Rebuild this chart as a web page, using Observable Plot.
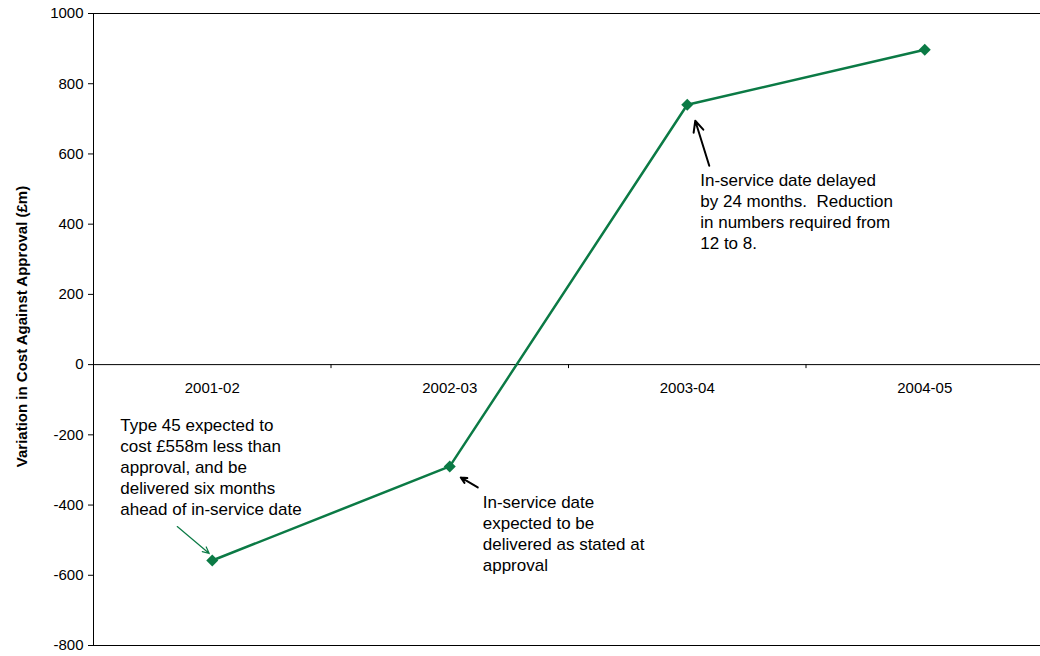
<!DOCTYPE html>
<html><head><meta charset="utf-8">
<script src="https://cdn.jsdelivr.net/npm/d3@7"></script>
<script src="https://cdn.jsdelivr.net/npm/@observablehq/plot@0.6"></script>
<style>html,body{margin:0;padding:0;background:#fff;overflow:hidden} svg{display:block}</style>
</head><body><div id="chart"></div>
<script>
// ---- data ----
const categories = ["2001-02", "2002-03", "2003-04", "2004-05"];
const values = [-558, -290, 740, 897];
const yTicks = [-800, -600, -400, -200, 0, 200, 400, 600, 800, 1000];
const yLabel = "Variation in Cost Against Approval (£m)";
const noteTexts = [
  "Type 45 expected to\ncost £558m less than\napproval, and be\ndelivered six months\nahead of in-service date",
  "In-service date\nexpected to be\ndelivered as stated at\napproval",
  "In-service date delayed\nby 24 months.\u00a0 Reduction\nin numbers required from\n12 to 8."
];

// ---- layout / style ----
const W = 1040, H = 656, mL = 93, mR = -3, mT = 13, mB = 11;
const green = "#0b7a45";
const font = "'Liberation Sans', Arial, Helvetica, sans-serif";
const xk = (W - mL - mR) / categories.length;       // px per category step
const yk = (H - mT - mB) / (yTicks[yTicks.length - 1] - yTicks[0]); // px per £m
// note placement relative to its data point, in pixels
const noteLayout = [
  {dx: -92, dy: -94, tail: [-35, -34], tip: [-3, -7], stroke: green, sw: 1.2, head: 9},
  {dx: 33, dy: 66.5, tail: [28, 21], tip: [11, 11], stroke: "#000", sw: 2, head: 8},
  {dx: 13, dy: 105.5, tail: [22, 61], tip: [8, 16], stroke: "#000", sw: 2, head: 9}
];

const xi = (d, i) => i + 1;
const marks = [
  Plot.ruleY([yTicks[0], 0, yTicks[yTicks.length - 1]], {stroke: "#000", strokeWidth: 1}),
  Plot.ruleX([0.5], {stroke: "#000", strokeWidth: 1}),
  Plot.ruleX(d3.range(1.5, categories.length, 1), {y1: 0, y2: -4 / yk, stroke: "#000", strokeWidth: 1}),
  Plot.text(categories, {x: xi, y: 0, dy: 24, fontSize: 15, text: d => d}),
  Plot.text([yLabel], {frameAnchor: "left", textAnchor: "middle", dx: -71, dy: -3, rotate: -90, fontWeight: "bold", fontSize: 15, text: d => d}),
  Plot.line(values, {x: xi, y: d => d, stroke: green, strokeWidth: 2.5}),
  Plot.dot(values, {x: xi, y: d => d, symbol: "diamond2", r: 5.4, fill: green, stroke: "none"})
];
noteTexts.forEach((t, k) => {
  const L = noteLayout[k];
  const i = k, v = values[k];
  marks.push(Plot.text([t], {x: i + 1, y: v, dx: L.dx, dy: L.dy, textAnchor: "start", lineAnchor: "middle", lineHeight: 21 / 17, fontSize: 17, fill: "#000", text: d => d}));
  marks.push(Plot.arrow([t], {
    x1: i + 1 + L.tail[0] / xk, y1: v - L.tail[1] / yk,
    x2: i + 1 + L.tip[0] / xk, y2: v - L.tip[1] / yk,
    stroke: L.stroke, strokeWidth: L.sw, headLength: L.head, headAngle: 50
  }));
});

const chart = Plot.plot({
  width: W, height: H,
  marginLeft: mL, marginRight: mR, marginTop: mT, marginBottom: mB,
  style: {fontFamily: font, fontSize: "15px", color: "#000", background: "#fff"},
  x: {type: "linear", domain: [0.5, categories.length + 0.5], axis: null},
  y: {domain: [yTicks[0], yTicks[yTicks.length - 1]], ticks: yTicks, tickSize: 5, tickPadding: 5, label: null, tickFormat: d => String(d)},
  marks
});
document.getElementById("chart").appendChild(chart);
</script>
</body></html>
